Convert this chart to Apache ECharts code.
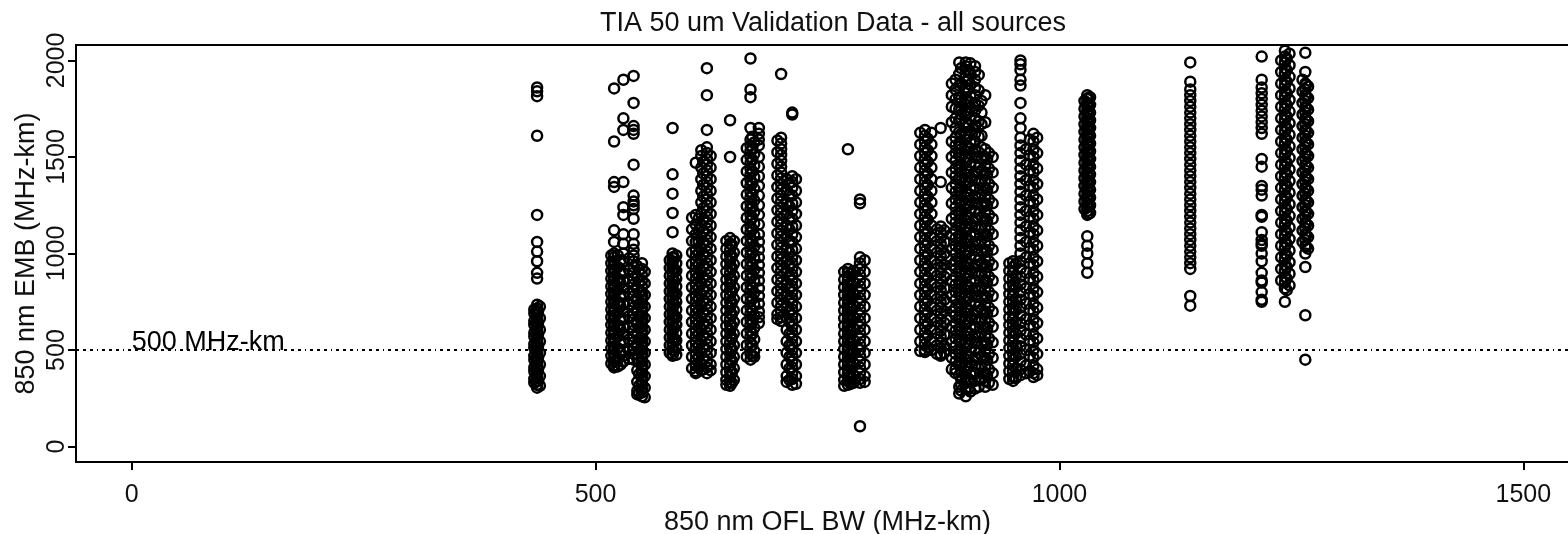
<!DOCTYPE html>
<html>
<head>
<meta charset="utf-8">
<script src="https://cdn.jsdelivr.net/npm/echarts@6/dist/echarts.min.js"></script>
<style>
html,body{margin:0;padding:0;background:#fff;}
#chart{width:1568px;height:534px;}
</style>
</head>
<body>
<div id="chart"></div>
<script>
// ---- Data ----
const titleText = 'TIA 50 um Validation Data - all sources';
const xAxisTitle = '850 nm OFL BW (MHz-km)';
const yAxisTitle = '850 nm EMB (MHz-km)';
const xTicks = [0, 500, 1000, 1500];
const yTicks = [0, 500, 1000, 1500, 2000];
const refLineValue = 500;
const refLineLabel = '500 MHz-km';

// x (OFL BW) of each measured column of points
const columnX = [437, 520, 530, 541, 550, 583, 608, 620, 645, 667, 676, 700, 712, 772, 785, 855, 872, 888, 899, 909, 920, 950, 958, 972, 1030, 1141, 1218, 1243, 1265,
                 894, 904, 614, 671, 862, 545, 524, 706, 964, 778, 440, 649, 924, 1033, 1248, 1268, 587,
                 434, 517, 536, 553, 580, 604, 624, 641, 663, 696, 716, 768, 790, 850, 868, 884, 913, 928, 946, 976, 1027, 1239, 1262,
                 892, 902, 916, 858, 876, 616, 611, 669, 709, 527, 547, 953, 968, 647, 585, 775, 438, 922, 1245, 1266, 1031];

// EMB values of each column (same order as columnX)
const colA  = [1860,1840,1815,1610,1200,1060,1010,960,900,870,735,715,700,680,660,640,620,600,580,560,540,520,500,480,460,440,420,400,380,360,340,320,305];
const colB1 = [1855,1580,1370,1345,1120,1060,1000,980,960,940,920,900,880,860,840,820,800,780,760,740,720,700,680,660,640,620,600,580,560,540,520,500,480,460,440,420,410];
const colB2 = [1900,1700,1640,1370,1240,1200,1100,1050,1000,960,900,860,820,780,740,700,660,620,580,540,500,470,440];
const colB3 = [1920,1780,1660,1640,1620,1460,1300,1270,1250,1230,1180,1100,1050,1020,990,960,930,900,870,840,810,780,750,720,690,660,630,600,570,540,510,480,450];
const colB4 = [950,920,890,860,830,800,780,760,740,720,700,680,660,640,620,600,580,560,540,520,500,480,460,440,420,400,380,360,340,320,300,280,260];
const colC  = [1650,1410,1310,1210,1110,1000,980,960,940,920,900,880,860,840,820,800,780,760,740,720,700,680,660,640,620,600,580,560,540,520,500,480,470];
const colD1 = [1470,1200,1150,1100,1060,1020,990,960,930,900,870,840,810,780,750,720,690,660,630,600,570,540,510,480,450,420,390,380];
const colD2 = [1960,1820,1640,1550,1520,1490,1460,1430,1400,1370,1340,1310,1280,1250,1220,1190,1160,1130,1100,1070,1040,1010,980,950,920,890,860,830,800,770,740,710,680,650,620,590,560,530,500,470,440,410,380];
const colE  = [1690,1500,1080,1050,1020,990,960,930,900,870,840,810,780,750,720,690,660,630,600,570,540,510,480,450,420,390,360,330,315];
const colF1 = [2010,1850,1810,1650,1590,1560,1530,1500,1470,1440,1410,1380,1350,1320,1290,1260,1230,1200,1170,1140,1110,1080,1050,1020,990,960,930,900,870,840,810,780,750,720,690,660,630,600,570,540,510,480,450];
const colF2 = [1650,1620,1590,1560,1500,1450,1400,1350,1300,1250,1200,1150,1100,1060,1020,980,940,900,860,820,780,740,700,670,640];
const colG1 = [1930,1600,1570,1540,1510,1480,1450,1420,1390,1360,1330,1300,1270,1240,1210,1180,1150,1120,1090,1060,1030,1000,970,940,910,880,850,820,790,760,730,700,670,650];
const colG2 = [1730,1720,1400,1370,1340,1300,1260,1220,1180,1140,1100,1060,1020,980,950,920,890,860,830,800,770,740,710,680,650,620,590,560,530,500,470,440,410,380,350,320];
const colH1 = [1540,920,900,880,860,840,820,800,780,760,740,720,700,680,660,640,620,600,580,560,540,520,500,480,460,440,420,400,380,360,340,320];
const colH2 = [1280,1260,980,950,920,890,860,830,800,770,740,710,680,650,620,590,560,530,500,470,440,410,380,350,330,105];
const colI1 = [1640,1610,1580,1550,1520,1490,1460,1430,1400,1370,1340,1310,1280,1250,1220,1190,1160,1130,1100,1070,1040,1010,980,950,920,890,860,830,800,770,740,710,680,650,620,590,560,530,500,490];
const colI2 = [1650,1370,1140,1110,1080,1050,1020,990,960,930,900,870,840,810,780,750,720,690,660,630,600,570,540,510,480,470];
const colJ1 = [1900,1850,1800,1750,1700,1650,1600,1560,1520,1480,1440,1400,1360,1320,1280,1240,1200,1160,1120,1080,1040,1000,960,920,880,840,800,760,720,680,640,600,560,520,480,440,400,380];
const colJ2 = [1990,1970,1950,1920,1890,1860,1830,1800,1770,1740,1710,1680,1650,1620,1590,1560,1530,1500,1470,1440,1410,1380,1350,1320,1290,1260,1230,1200,1170,1140,1110,1080,1050,1020,990,960,930,900,870,840,810,780,750,720,690,660,630,600,570,540,510,480,450,420,390,360,330,300,260];
const colJ3 = [1970,1940,1900,1860,1820,1780,1740,1700,1660,1620,1580,1540,1500,1460,1420,1380,1340,1300,1260,1220,1180,1140,1100,1060,1020,980,940,900,860,820,780,740,700,660,620,580,540,500,460,420,380,340,300];
const colK  = [1820,1680,1540,1500,1460,1420,1380,1340,1300,1260,1220,1180,1140,1100,1060,1020,980,940,900,860,820,780,740,700,660,620,580,540,500,460,420,380,340,310];
const colL1 = [960,930,900,870,840,810,780,750,720,690,660,630,600,570,540,510,480,450,420,390,360,340];
const colL2 = [2000,1980,1950,1900,1870,1780,1700,1650,1600,1560,1520,1480,1440,1400,1360,1320,1280,1240,1200,1160,1120,1080,1040,1000,960,920,880,840,800,760,720,680,640,600,560,520,480,440,400,370];
const colL3 = [1620,1580,1540,1500,1460,1420,1380,1340,1300,1260,1220,1180,1140,1100,1060,1020,980,940,900,860,820,780,740,700,660,620,580,540,500,460,420,380,360];
const colM  = [1820,1800,1780,1760,1740,1720,1700,1680,1660,1640,1620,1600,1580,1560,1540,1520,1500,1480,1460,1440,1420,1400,1380,1360,1340,1320,1300,1280,1260,1240,1220,1200,1090,1040,1000,950,900];
const colN  = [1990,1890,1850,1820,1790,1760,1730,1700,1670,1640,1610,1580,1550,1520,1490,1460,1430,1400,1370,1340,1310,1280,1250,1220,1190,1160,1130,1100,1070,1040,1010,980,950,920,780,730];
const colO  = [2020,1900,1860,1830,1800,1770,1740,1710,1680,1650,1620,1490,1450,1350,1330,1300,1200,1190,1110,1070,1050,1040,1000,960,900,860,850,800,760,750];
const colP  = [2050,2020,1990,1960,1930,1900,1870,1840,1810,1780,1750,1720,1690,1660,1630,1600,1570,1540,1510,1480,1450,1420,1390,1360,1330,1300,1270,1240,1210,1180,1150,1120,1090,1060,1030,1000,970,940,910,880,850,820,750];
const colQ  = [2040,1940,1880,1850,1820,1790,1760,1730,1700,1670,1640,1610,1580,1550,1520,1490,1460,1430,1400,1370,1340,1310,1280,1250,1220,1190,1160,1130,1100,1070,1040,1000,930,680,450];
// extra readings inside the densest columns
const colJ4 = [1960,1880,1780,1720,1620,1540,1500,1460,1420,1380,1340,1300,1260,1220,1180,1140,1100,1060,1020,980,940,900,860,820,780,740,700,660,620,580,540,500,460,420,390,350,320,290];
const colJ5 = [1985,1935,1875,1815,1755,1695,1635,1575,1515,1455,1395,1335,1275,1215,1155,1095,1035,975,915,855,795,735,675,615,555,495,435,375,335,285];
const colD3 = [1535,1505,1445,1385,1325,1265,1205,1145,1085,1025,965,905,845,785,725,665,605,545,485,425,395];
const colF3 = [1575,1515,1455,1395,1335,1275,1215,1155,1095,1035,975,915,855,795,735,675,615,555,495,465];
const colI3 = [1625,1565,1505,1445,1385,1325,1265,1205,1145,1085,1025,965,905,845,785,725,665,605,545,500];
const colB5 = [935,875,815,755,695,635,575,515,455,395,335,290,270];
const colB6 = [990,930,870,810,750,690,630,570,510,450,415];
const colG3 = [1385,1325,1265,1205,1145,1085,1025,965,905,845,785,725,665,605,545,485,425,365,335];
const colL4 = [1540,1460,1380,1300,1220,1140,1060,980,900,820,740,660,580,500,420,380];
const colH3 = [910,850,790,730,670,610,550,490,430,370,330];
const colA2 = [725,665,605,545,485,425,365,315];
const colE2 = [1065,1005,945,885,825,765,705,645,585,525,465,405,345];
const colK2 = [1520,1440,1360,1280,1200,1120,1040,960,880,800,720,640,560,480,400,330];
const colM2 = [1810,1770,1730,1690,1650,1610,1570,1530,1490,1450,1410,1370,1330,1290,1250,1210];
const colP2 = [2035,1975,1915,1855,1795,1735,1675,1615,1555,1495,1435,1375,1315,1255,1195,1135,1075,1015,955,895,835];
const colQ2 = [1865,1805,1745,1685,1625,1565,1505,1445,1385,1325,1265,1205,1145,1085,1025];
const colC2 = [990,950,910,870,830,790,750,710,670,630,590,550,510,475];
const colA3 = [710,690,650,630,590,570,530,510,470,450,410,390,350,330];
const colB7 = [990,950,910,870,830,790,750,710,670,630,590,550,510,470,430];
const colB8 = [975,915,855,795,735,675,615,555,495,455];
const colB9 = [905,845,785,725,665,605,545,485,425,365,305,255];
const colC3 = [965,925,885,845,805,765,725,685,645,605,565,525,485];
const colD4 = [1185,1125,1065,1005,945,885,825,765,705,645,585,525,465,405];
const colD5 = [1505,1445,1385,1325,1265,1205,1145,1085,1025,965,905,845,785,725,665,605,545,485,425,395];
const colE3 = [1065,1025,985,945,905,865,825,785,745,705,665,625,585,545,505,465,425,385,345,320];
const colF4 = [1545,1485,1425,1365,1305,1245,1185,1125,1065,1005,945,885,825,765,705,645,585,525,465];
const colG4 = [1585,1525,1465,1405,1345,1285,1225,1165,1105,1045,985,925,865,805,745,685,660];
const colG5 = [1385,1325,1265,1205,1145,1085,1025,965,905,845,785,725,665,605,545,485,425,365,325];
const colH4 = [905,865,825,785,745,705,665,625,585,545,505,465,425,385,345,315];
const colH5 = [965,905,845,785,725,665,605,545,485,425,365,335];
const colI4 = [1625,1565,1505,1445,1385,1325,1265,1205,1145,1085,1025,965,905,845,785,725,665,605,545,495];
const colI5 = [1125,1065,1005,945,885,825,765,705,645,585,525,480];
const colJ6 = [1880,1820,1760,1680,1580,1500,1420,1340,1260,1180,1100,1020,940,860,780,700,620,540,460,400];
const colJ7 = [1925,1845,1765,1685,1605,1525,1445,1365,1285,1205,1125,1045,965,885,805,725,645,565,485,405,345,310];
const colK3 = [1500,1420,1340,1260,1180,1100,1020,940,860,780,700,620,540,460,380,320];
const colL5 = [950,910,870,830,790,750,710,670,630,590,550,510,470,430,390,350];
const colL6 = [1600,1520,1440,1360,1280,1200,1120,1040,960,880,800,720,640,560,480,400,370];
const colM3 = [1790,1750,1710,1670,1630,1590,1550,1510,1470,1430,1390,1350,1310,1270,1230];
const colP3 = [2000,1940,1880,1820,1760,1700,1640,1580,1520,1460,1400,1340,1280,1220,1160,1100,1040,980,920,860];
const colQ3 = [1900,1840,1780,1720,1660,1600,1540,1480,1420,1360,1300,1240,1180,1120,1060];
const colJ8 = [1990,1930,1870,1810,1750,1690,1630,1570,1510,1450,1390,1330,1270,1210,1150,1090,1030,970,910,850,790,730,670,610,550,490,430,370,310,275];
const colJ9 = [1950,1900,1850,1790,1730,1670,1610,1550,1490,1430,1370,1310,1250,1190,1130,1070,1010,950,890,830,770,710,650,590,530,470,410,350,300];
const colJ10 = [1790,1730,1670,1610,1550,1490,1430,1370,1310,1250,1190,1130,1070,1010,950,890,830,770,710,650,590,530,470,410,350];
const colI6 = [1595,1535,1475,1415,1355,1295,1235,1175,1115,1055,995,935,875,815,755,695,635,575,515];
const colI7 = [1120,1060,1000,940,880,820,760,700,640,580,520,485];
const colD6 = [1475,1415,1355,1295,1235,1175,1115,1055,995,935,875,815,755,695,635,575,515,455,400];
const colD7 = [1180,1120,1060,1000,940,880,820,760,700,640,580,520,460,410];
const colF5 = [1605,1545,1485,1425,1365,1305,1245,1185,1125,1065,1005,945,885,825,765,705,645,585,525,470];
const colG6 = [1365,1305,1245,1185,1125,1065,1005,945,885,825,765,705,645,585,525,465,405,345];
const colB10 = [965,905,845,785,725,665,605,545,485,425];
const colB11 = [915,855,795,735,675,615,555,495,435,375,315,275];
const colL7 = [945,885,825,765,705,645,585,525,465,405,355];
const colL8 = [1590,1510,1430,1350,1270,1190,1110,1030,950,870,790,710,630,550,470,390];
const colE4 = [1045,985,925,865,805,745,685,625,565,505,445,385,330];
const colC4 = [975,915,855,795,735,675,615,555,495];
const colH6 = [895,835,775,715,655,595,535,475,415,355,325];
const colA4 = [700,640,580,520,460,400,340];
const colK4 = [1490,1410,1330,1250,1170,1090,1010,930,850,770,690,610,530,450,370];
const colP4 = [2010,1950,1890,1830,1770,1710,1650,1590,1530,1470,1410,1350,1290,1230,1170,1110,1050,990,930,870,810];
const colQ4 = [1875,1815,1755,1695,1635,1575,1515,1455,1395,1335,1275,1215,1155,1095,1035];
const colM4 = [1805,1765,1725,1685,1645,1605,1565,1525,1485,1445,1405,1365,1325,1285,1245,1205];

const columnY = [colA, colB1, colB2, colB3, colB4, colC, colD1, colD2, colE, colF1, colF2, colG1, colG2, colH1, colH2, colI1, colI2, colJ1, colJ2, colJ3, colK, colL1, colL2, colL3, colM, colN, colO, colP, colQ,
                 colJ4, colJ5, colD3, colF3, colI3, colB5, colB6, colG3, colL4, colH3, colA2, colE2, colK2, colM2, colP2, colQ2, colC2,
                 colA3, colB7, colB8, colB9, colC3, colD4, colD5, colE3, colF4, colG4, colG5, colH4, colH5, colI4, colI5, colJ6, colJ7, colK3, colL5, colL6, colM3, colP3, colQ3,
                 colJ8, colJ9, colJ10, colI6, colI7, colD6, colD7, colF5, colG6, colB10, colB11, colL7, colL8, colE4, colC4, colH6, colA4, colK4, colP4, colQ4, colM4];

// ---- Build point list ----
const points = [];
columnX.forEach((x, i) => { columnY[i].forEach(y => points.push([x, y])); });

const FONT = '"Liberation Sans", Arial, Helvetica, sans-serif';
const plain = v => String(v);

const chart = echarts.init(document.getElementById('chart'), null, {renderer: 'canvas'});
chart.setOption({
  animation: false,
  backgroundColor: '#fff',
  title: {
    text: titleText,
    left: 828,
    textAlign: 'center',
    top: 5,
    textStyle: {fontFamily: FONT, fontSize: 27, fontWeight: 'normal', color: '#111'}
  },
  grid: {
    left: 76, right: -11, top: 45, bottom: 72,
    outerBoundsMode: 'none',
    show: true, borderColor: '#000', borderWidth: 2, backgroundColor: 'transparent'
  },
  xAxis: {
    type: 'value', min: -60, max: 1560,
    name: xAxisTitle, nameLocation: 'middle', nameGap: 47, nameMoveOverlap: false,
    nameTextStyle: {fontFamily: FONT, fontSize: 27, color: '#111'},
    axisLine: {show: true, onZero: false, lineStyle: {color: '#000', width: 2}},
    axisTick: {show: true, customValues: xTicks, length: 8, lineStyle: {color: '#000', width: 2}},
    axisLabel: {customValues: xTicks, formatter: plain, fontFamily: FONT, fontSize: 25, color: '#111', margin: 21},
    splitLine: {show: false}
  },
  yAxis: {
    type: 'value', min: -80, max: 2080,
    name: yAxisTitle, nameLocation: 'middle', nameGap: 36, nameRotate: 90, nameMoveOverlap: false,
    nameTextStyle: {fontFamily: FONT, fontSize: 27, color: '#111'},
    axisLine: {show: true, onZero: false, lineStyle: {color: '#000', width: 2}},
    axisTick: {show: true, customValues: yTicks, length: 8, lineStyle: {color: '#000', width: 2}},
    axisLabel: {customValues: yTicks, formatter: plain, rotate: 90, fontFamily: FONT, fontSize: 25, color: '#111', margin: 6},
    splitLine: {show: false}
  },
  series: [
    {
      type: 'scatter',
      data: points,
      symbol: 'circle',
      symbolSize: 10,
      itemStyle: {color: 'rgba(0,0,0,0)', borderColor: '#000', borderWidth: 2.5, opacity: 1},
      silent: true,
      markLine: {
        silent: true,
        symbol: ['none', 'none'],
        lineStyle: {color: '#000', width: 1.8, type: [3, 4, 3, 4, 3, 4, 1, 4]},
        label: {show: false},
        data: [{yAxis: refLineValue}]
      },
      z: 3
    },
    {
      type: 'scatter',
      data: [[0, refLineValue]],
      symbolSize: 0,
      silent: true,
      label: {
        show: true, position: 'right', distance: 0, offset: [0, -7],
        formatter: refLineLabel, fontFamily: FONT, fontSize: 27, color: '#000',
        textBorderWidth: 0, opacity: 1
      },
      z: 4
    }
  ]
});
</script>
</body>
</html>
